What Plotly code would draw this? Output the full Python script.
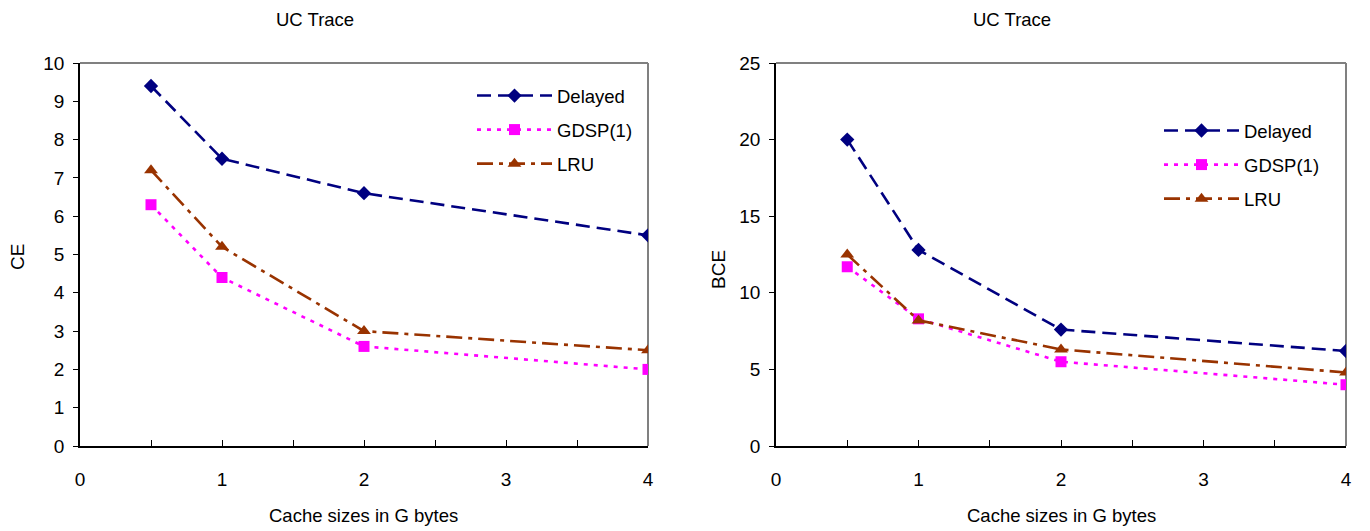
import plotly.graph_objects as go

# Cache sizes (GB) and results for the UC trace
cache_sizes = [0.5, 1, 2, 4]

ce_delayed = [9.4, 7.5, 6.6, 5.5]
ce_gdsp = [6.3, 4.4, 2.6, 2.0]
ce_lru = [7.2, 5.2, 3.0, 2.5]

bce_delayed = [20.0, 12.8, 7.6, 6.2]
bce_gdsp = [11.7, 8.3, 5.5, 4.0]
bce_lru = [12.5, 8.2, 6.3, 4.8]

x_tickvals = [0, 0.5, 1, 1.5, 2, 2.5, 3, 3.5, 4]
x_ticktext = ["0", "", "1", "", "2", "", "3", "", "4"]

series_names = ["Delayed", "GDSP(1)", "LRU"]
series_colors = ["#000080", "#FF00FF", "#993300"]
series_dash = ["14px,7px", "4px,6px", "16px,6px,4px,6px"]
series_symbols = ["diamond", "square", "triangle-up"]
series_sizes = [11, 11, 12]

FONT = "Liberation Sans, Arial, sans-serif"
W, H = 1370, 531


def px(x):
    return x / W


def py(y):
    return 1 - y / H


fig = go.Figure()


def add_series(values, xaxis, yaxis, legend):
    for i, ys in enumerate(values):
        fig.add_trace(go.Scatter(
            x=cache_sizes, y=ys, name=series_names[i],
            xaxis=xaxis, yaxis=yaxis, legend=legend,
            legendgroup=legend + str(i),
            mode="lines+markers",
            line=dict(color=series_colors[i], width=2.6, dash=series_dash[i]),
            marker=dict(symbol=series_symbols[i], size=series_sizes[i],
                        color=series_colors[i]),
        ))


add_series([ce_delayed, ce_gdsp, ce_lru], "x", "y", "legend")
add_series([bce_delayed, bce_gdsp, bce_lru], "x2", "y2", "legend2")

y_dom = [py(446), py(63)]
left_dom = [px(80), px(648)]
right_dom = [px(776), px(1346)]

xcommon = dict(range=[0, 4], tickvals=x_tickvals, ticktext=x_ticktext,
               ticks="inside", ticklen=6, tickwidth=1.2, tickcolor="black",
               showline=True, linecolor="black", linewidth=1.5,
               showgrid=False, zeroline=False, ticklabelstandoff=15,
               tickfont=dict(size=19, color="black"))

ycommon = dict(ticks="outside", ticklen=5, tickwidth=1.2, tickcolor="black",
               showline=True, linecolor="black", linewidth=1.5,
               showgrid=False, zeroline=False, ticklabelstandoff=5,
               tickfont=dict(size=19, color="black"))

fig.update_layout(
    width=W, height=H,
    margin=dict(l=0, r=0, t=0, b=0, autoexpand=False),
    paper_bgcolor="white", plot_bgcolor="white",
    font=dict(family=FONT, color="black"),
    xaxis=dict(domain=left_dom, anchor="y", **xcommon),
    xaxis2=dict(domain=right_dom, anchor="y2", **xcommon),
    yaxis=dict(domain=y_dom, anchor="x", range=[0, 10], dtick=1, **ycommon),
    yaxis2=dict(domain=y_dom, anchor="x2", range=[0, 25], dtick=5, **ycommon),
    legend=dict(x=px(472), y=py(77), xanchor="left", yanchor="top",
                bgcolor="rgba(0,0,0,0)", font=dict(size=18.5),
                tracegroupgap=7, itemwidth=75),
    legend2=dict(x=px(1159), y=py(112), xanchor="left", yanchor="top",
                 bgcolor="rgba(0,0,0,0)", font=dict(size=18.5),
                 tracegroupgap=7, itemwidth=75),
    showlegend=True,
)

# gray plot-area frame (top and right edges)
for xr, yr in (("x domain", "y domain"), ("x2 domain", "y2 domain")):
    fig.add_shape(type="line", xref=xr, yref=yr, x0=0, x1=1, y0=1, y1=1,
                  line=dict(color="#808080", width=2), layer="below")
    fig.add_shape(type="line", xref=xr, yref=yr, x0=1, x1=1, y0=0, y1=1,
                  line=dict(color="#808080", width=2), layer="below")

annotations = [
    dict(text="UC Trace", x=315, y=20, size=18.5, angle=0),
    dict(text="UC Trace", x=1012, y=20, size=18.5, angle=0),
    dict(text="Cache sizes in G bytes", x=363, y=515, size=18.5, angle=0),
    dict(text="Cache sizes in G bytes", x=1061, y=515, size=18.5, angle=0),
    dict(text="CE", x=18, y=257, size=19, angle=-90),
    dict(text="BCE", x=718, y=270, size=19, angle=-90),
]
for a in annotations:
    fig.add_annotation(text=a["text"], x=px(a["x"]), y=py(a["y"]),
                       xref="paper", yref="paper", xanchor="center",
                       yanchor="middle", showarrow=False,
                       textangle=a["angle"],
                       font=dict(size=a["size"], color="black", family=FONT))

fig.write_html("out.html")
